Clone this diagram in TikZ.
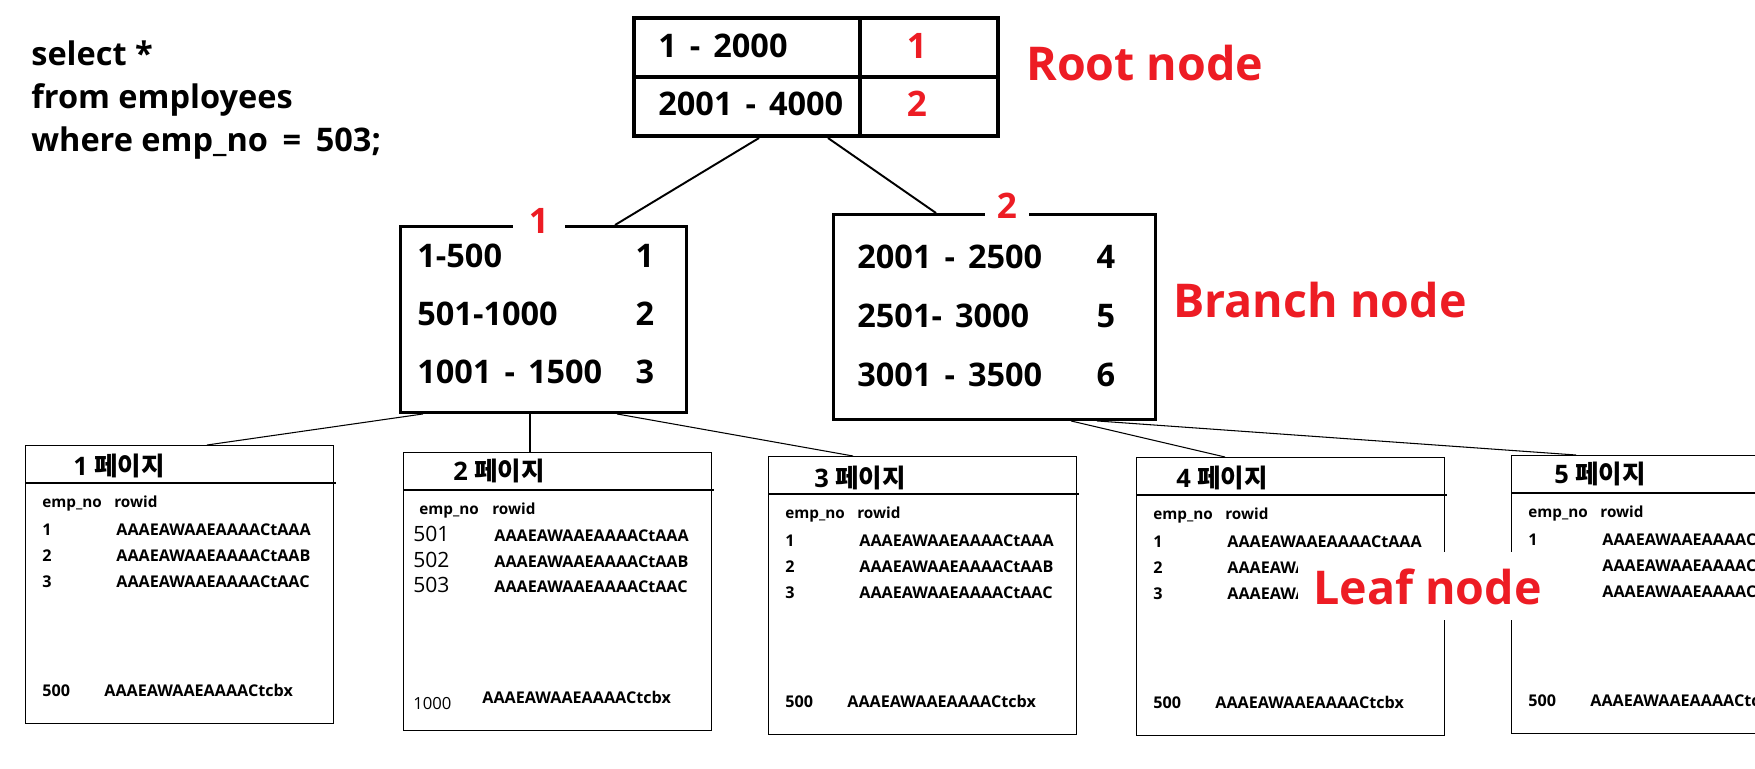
\documentclass[tikz,border=0pt]{standalone}
\usepackage{fontspec}
\setmainfont{Open Sans}
\newfontfamily\kr{Noto Sans CJK KR}
\usepackage{tikz}
\usetikzlibrary{calc}
\definecolor{nodered}{RGB}{237, 28, 36}
\newcommand{\rng}{\hspace{0.4em}-\hspace{0.4em}}

\begin{document}
\begin{tikzpicture}[x=0.02cm, y=-0.02cm,
    txt/.style={inner sep=0pt, anchor=base west},
    sqltxt/.style={txt, font=\fontsize{18.5}{22}\selectfont\bfseries},
    keytxt/.style={txt, font=\fontsize{18.5}{22}\selectfont\bfseries},
    rednum/.style={txt, anchor=base, text=nodered, font=\fontsize{20}{24}\selectfont\bfseries},
    biglbl/.style={txt, text=nodered, font=\fontsize{26.5}{32}\selectfont\bfseries},
    pgtitle/.style={txt, font=\fontsize{14.5}{17}\selectfont\bfseries},
    colhead/.style={txt, font=\fontsize{8.7}{10}\selectfont\bfseries},
    rowtxt/.style={txt, font=\fontsize{9.2}{11}\selectfont\bfseries},
    rootbox/.style={draw, line width=2.3pt, anchor=north west, inner sep=0pt,
      minimum width=7.28cm, minimum height=2.36cm},
    branchbox/.style={draw, line width=1.7pt, anchor=north west, inner sep=0pt},
    leafbox/.style={draw, line width=0.6pt, anchor=north west, inner sep=0pt,
      minimum width=6.16cm, minimum height=5.56cm},
    thinline/.style={line width=0.6pt}]
  \clip (0,0) rectangle (1755,768);
  \fill[white] (0,0) rectangle (1755,768);

  % Query
  \foreach \ln [count=\i] in {select *, from employees, where emp\_no\hspace{0.45em}=\hspace{0.45em}503;}
    \node[sqltxt] (sql\i) at (31, 22+43*\i) {\ln};

  % Root node
  \node[rootbox] (root) at (632,16) {};
  \draw[line width=2.3pt] ($(root.north west)+(228,0)$) -- ($(root.south west)+(228,0)$);
  \draw[line width=2.3pt] (root.west) -- (root.east);
  \node[keytxt] (rk1) at ($(root.north west)+(26,41)$) {1\rng2000};
  \node[keytxt] (rk2) at ($(root.north west)+(26,99)$) {2001\rng4000};
  \node[rednum] (rp1) at ($(root.north west)+(285,42)$) {1};
  \node[rednum] (rp2) at ($(root.north west)+(285,100)$) {2};
  \node[biglbl] (lblroot) at (1026,80) {Root node};

  % Branch nodes
  \node[branchbox, minimum width=5.72cm, minimum height=3.72cm] (br1) at (399,225) {};
  \node[branchbox, minimum width=6.44cm, minimum height=4.10cm] (br2) at (832,213) {};
  \node[rednum, fill=white, inner xsep=0.31cm, inner ysep=2pt] (bp1) at ($(br1.north west)+(140,8)$) {1};
  \node[rednum, fill=white, inner xsep=0.24cm, inner ysep=2pt] (bp2) at ($(br2.north west)+(175,5)$) {2};
  \foreach \t/\k [count=\i] in {1-500/1, 501-1000/2, 1001\rng1500/3}{
    \node[keytxt] (bk1\i) at ($(br1.north west)+(18,-16+58*\i)$) {\t};
    \node[keytxt, anchor=base] (bn1\i) at ($(br1.north west)+(246,-16+58*\i)$) {\k};
  }
  \foreach \t/\k [count=\i] in {2001\rng2500/4, 2501-\hspace{0.4em}3000/5, 3001\rng3500/6}{
    \node[keytxt] (bk2\i) at ($(br2.north west)+(25,-4+59*\i)$) {\t};
    \node[keytxt, anchor=base] (bn2\i) at ($(br2.north west)+(274,-4+59*\i)$) {\k};
  }
  \node[biglbl] (lblbranch) at (1173,317) {Branch node};

  % Root to branch links
  \draw[line width=1.1pt] ($(root.south west)+(127,0)$) -- ($(br1.north west)+(216,0)$);
  \draw[line width=1.1pt] ($(root.south west)+(196,0)$) -- ($(br2.north west)+(104,0)$);

  % Leaf pages
  \foreach \n/\lx/\ly/\tx/\ty in {1/25/445/48/30, 3/768/456/46/31, 4/1136/457/40/30, 5/1511/455/43/28}{
    \node[leafbox] (leaf\n) at (\lx,\ly) {};
    \draw[thinline] ($(leaf\n.north west)+(0,38)$) -- ($(leaf\n.north west)+(311,38)$);
    \node[pgtitle] (ttl\n) at ($(leaf\n.north west)+(\tx,\ty)$) {\n\ {\kr 페이지}};
    \node[colhead] (hd\n) at ($(leaf\n.north west)+(17,62)$) {emp\_no};
    \node[colhead] (hr\n) at ($(leaf\n.north west)+(89,62)$) {rowid};
    \foreach \s [count=\i] in {A,B,C}{
      \node[rowtxt] (no\n\i) at ($(leaf\n.north west)+(17,64+26*\i)$) {\i};
      \node[rowtxt] (id\n\i) at ($(leaf\n.north west)+(91,64+26*\i)$) {AAAEAWAAEAAAACtAA\s};
    }
    \node[rowtxt] (nol\n) at ($(leaf\n.north west)+(17,251)$) {500};
    \node[rowtxt] (idl\n) at ($(leaf\n.north west)+(79,251)$) {AAAEAWAAEAAAACtcbx};
  }
  \node[leafbox] (leaf2) at (403,452) {};
  \draw[thinline] ($(leaf2.north west)+(0,38)$) -- ($(leaf2.north west)+(311,38)$);
  \node[pgtitle] (ttl2) at ($(leaf2.north west)+(50,28)$) {2\ {\kr 페이지}};
  \node[colhead] (hd2) at ($(leaf2.north west)+(16,62)$) {emp\_no};
  \node[colhead] (hr2) at ($(leaf2.north west)+(89,62)$) {rowid};
  \foreach \s [count=\i] in {A,B,C}{
    \node[txt, font=\fontsize{12}{14}\selectfont] (no2\i) at ($(leaf2.north west)+(10,64+25.5*\i)$) {50\i};
    \node[rowtxt] (id2\i) at ($(leaf2.north west)+(91,64+25.5*\i)$) {AAAEAWAAEAAAACtAA\s};
  }
  \node[txt, font=\fontsize{9.5}{11}\selectfont] (nol2) at ($(leaf2.north west)+(10,257)$) {1000};
  \node[rowtxt] (idl2) at ($(leaf2.north west)+(79,251)$) {AAAEAWAAEAAAACtcbx};

  % Branch to leaf links
  \draw[thinline] ($(br1.south west)+(24,0)$) -- ($(leaf1.north west)+(182,0)$);
  \draw[thinline] ($(br1.south west)+(131,0)$) -- ($(leaf2.north west)+(127,0)$);
  \draw[thinline] ($(br1.south west)+(218,0)$) -- ($(leaf3.north west)+(85,0)$);
  \draw[thinline] ($(br2.south west)+(239,0)$) -- ($(leaf4.north west)+(89,0)$);
  \draw[thinline] ($(br2.south west)+(265,0)$) -- ($(leaf5.north west)+(65,0)$);

  \node[biglbl, fill=white, inner xsep=0.3cm, inner ysep=0.32cm] (lblleaf) at (1298,604) {Leaf node};
\end{tikzpicture}
\end{document}
